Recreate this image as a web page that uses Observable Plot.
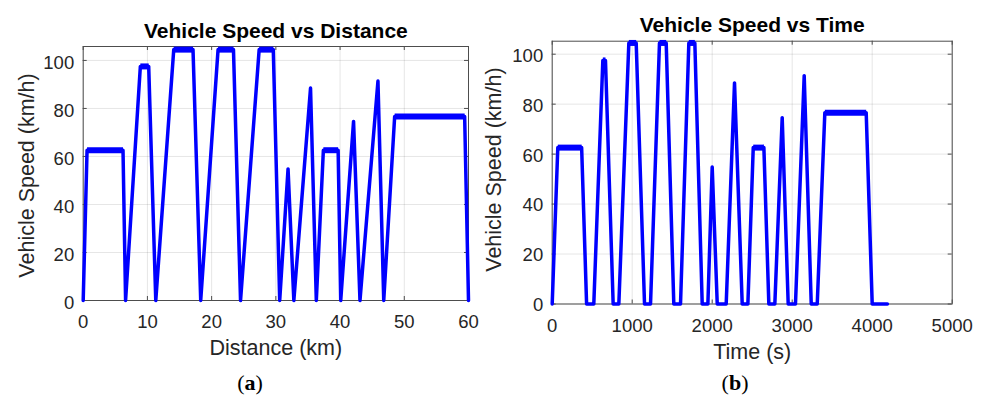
<!DOCTYPE html>
<html>
<head>
<meta charset="utf-8">
<script src="https://cdn.jsdelivr.net/npm/d3@7"></script>
<script src="https://cdn.jsdelivr.net/npm/@observablehq/plot@0.6"></script>
<style>
  body { margin: 0; background: #fff; }
  #wrap { position: relative; width: 984px; height: 402px; overflow: hidden; background: #fff; }
  #wrap svg { position: absolute; top: 0; overflow: visible; }
  .cap { position: absolute; top: 372px; font-family: "Liberation Serif", "Times New Roman", serif; font-size: 22px; line-height: 22px; color: #000; transform: translateX(-50%); white-space: nowrap; }
  .cap b { font-weight: bold; }
</style>
</head>
<body>
<div id="wrap"></div>
<script>
// Panel (a): vehicle speed (km/h) vs distance (km)
const distKm    = [0, 0.6, 6.2, 6.6, 8.9, 10.2, 11.3, 14.1, 17.1, 18.3, 21.0, 23.4, 24.5, 27.4, 29.6, 30.6, 31.9, 32.8, 35.4, 36.3, 37.4, 39.7, 40.1, 42.1, 43.1, 45.9, 46.8, 48.5, 59.4, 60.0];
const distSpeed = [0, 62.6, 62.6, 0, 97.5, 97.5, 0, 104.5, 104.5, 0, 104.5, 104.5, 0, 104.5, 104.5, 0, 54.8, 0, 88.5, 0, 62.6, 62.6, 0, 74.6, 0, 91.4, 0, 76.6, 76.6, 0];

// Panel (b): vehicle speed (km/h) vs time (s)
const timeS     = [0, 70, 368, 430, 520, 633, 666, 762, 833, 958, 1050, 1154, 1229, 1341, 1425, 1520, 1604, 1708, 1783, 1875, 1946, 2000, 2063, 2175, 2279, 2375, 2446, 2513, 2646, 2708, 2783, 2875, 2950, 3041, 3150, 3238, 3313, 3408, 3925, 4000, 4190];
const timeSpeed = [0, 62.6, 62.6, 0, 0, 97.5, 97.5, 0, 0, 104.5, 104.5, 0, 0, 104.5, 104.5, 0, 0, 104.5, 104.5, 0, 0, 54.8, 0, 0, 88.5, 0, 0, 62.6, 62.6, 0, 0, 74.6, 0, 0, 91.4, 0, 0, 76.6, 76.6, 0, 0];

const distTicks  = [0, 10, 20, 30, 40, 50, 60];
const timeTicks  = [0, 1000, 2000, 3000, 4000, 5000];
const speedTicks = [0, 20, 40, 60, 80, 100];

const titles  = ["Vehicle Speed vs Distance", "Vehicle Speed vs Time"];
const xLabels = ["Distance (km)", "Time (s)"];
const yLabel  = "Vehicle Speed (km/h)";

function plateaus(xs, ys) {
  const out = [];
  for (let i = 0; i < xs.length - 1; i++) {
    if (ys[i] > 0 && ys[i] === ys[i + 1]) out.push({x1: xs[i], x2: xs[i + 1], y: ys[i]});
  }
  return out;
}

function speedChart(o) {
  const data = o.xs.map((x, i) => ({x, y: o.ys[i]}));
  const innerW = o.width - o.ml - o.mr;
  const innerH = o.height - o.mt - o.mb;
  const axisCol = "#4d4d4d";
  const fmt = d3.format("d");
  return Plot.plot({
    width: o.width,
    height: o.height,
    marginLeft: o.ml, marginRight: o.mr, marginTop: o.mt, marginBottom: o.mb,
    style: {fontFamily: "'Liberation Sans', Arial, sans-serif", color: "#262626", background: "transparent", overflow: "visible"},
    x: {domain: o.xDomain},
    y: {domain: o.yDomain},
    marks: [
      Plot.gridX({ticks: o.xTicks, stroke: "#000", strokeOpacity: 0.1}),
      Plot.gridY({ticks: speedTicks, stroke: "#000", strokeOpacity: 0.1}),
      Plot.ruleX(o.xTicks, {x: d => d, insetTop: innerH - 4, stroke: axisCol}),
      Plot.ruleX(o.xTicks, {x: d => d, insetBottom: innerH - 4, stroke: axisCol}),
      Plot.ruleY(speedTicks, {y: d => d, insetRight: innerW - 4, stroke: axisCol}),
      Plot.ruleY(speedTicks, {y: d => d, insetLeft: innerW - 4, stroke: axisCol}),
      Plot.frame({stroke: axisCol}),
      Plot.axisX({ticks: o.xTicks, tickFormat: fmt, tickSize: 0, tickPadding: o.xPad, fontSize: 18.5, label: null, fill: "#262626"}),
      Plot.axisY({ticks: speedTicks, tickFormat: fmt, tickSize: 0, tickPadding: 9, dy: o.yTickDy, fontSize: 18.5, label: null, fill: "#262626"}),
      Plot.line(data, {x: "x", y: "y", stroke: "#0000ff", strokeWidth: 3.5}),
      Plot.link(plateaus(o.xs, o.ys), {x1: "x1", x2: "x2", y1: "y", y2: "y", stroke: "#0000ff", strokeWidth: 6, strokeLinecap: "butt"}),
      Plot.text([o.title], {text: d => d, frameAnchor: "top", lineAnchor: "middle", textAnchor: "middle", dy: o.titleDy, fontSize: 21, fontWeight: "bold", fill: "#000"}),
      Plot.text([o.xLabel], {text: d => d, frameAnchor: "bottom", lineAnchor: "middle", textAnchor: "middle", dy: o.xLabelDy, fontSize: 21.5, fill: "#262626"}),
      Plot.text([yLabel], {text: d => d, frameAnchor: "left", lineAnchor: "middle", textAnchor: "middle", rotate: -90, dx: o.yLabelDx, dy: o.yLabelDy, fontSize: 21.5, fill: "#262626"})
    ]
  });
}

const wrap = document.getElementById("wrap");

const left = speedChart({
  xs: distKm, ys: distSpeed, xDomain: [0, 60], yDomain: [0, 105.8], xTicks: distTicks,
  width: 490, height: 402, ml: 82.7, mr: 22, mt: 46, mb: 102,
  xPad: 13.9, yTickDy: 2.5, title: titles[0], titleDy: -15.2, xLabel: xLabels[0], xLabelDy: 47.4,
  yLabelDx: -55.6, yLabelDy: 2
});
left.style.left = "0px";
wrap.appendChild(left);

const right = speedChart({
  xs: timeS, ys: timeSpeed, xDomain: [0, 5000], yDomain: [0, 105.2], xTicks: timeTicks,
  width: 494, height: 402, ml: 61.7, mr: 32.3, mt: 40.7, mb: 98.5,
  xPad: 14.9, yTickDy: 1.5, title: titles[1], titleDy: -15.9, xLabel: xLabels[1], xLabelDy: 48.6,
  yLabelDx: -57.9, yLabelDy: -3
});
right.style.left = "490px";
wrap.appendChild(right);

const capA = document.createElement("div");
capA.className = "cap";
capA.style.left = "250px";
capA.innerHTML = "(<b>a</b>)";
wrap.appendChild(capA);

const capB = document.createElement("div");
capB.className = "cap";
capB.style.left = "735px";
capB.innerHTML = "(<b>b</b>)";
wrap.appendChild(capB);
</script>
</body>
</html>
